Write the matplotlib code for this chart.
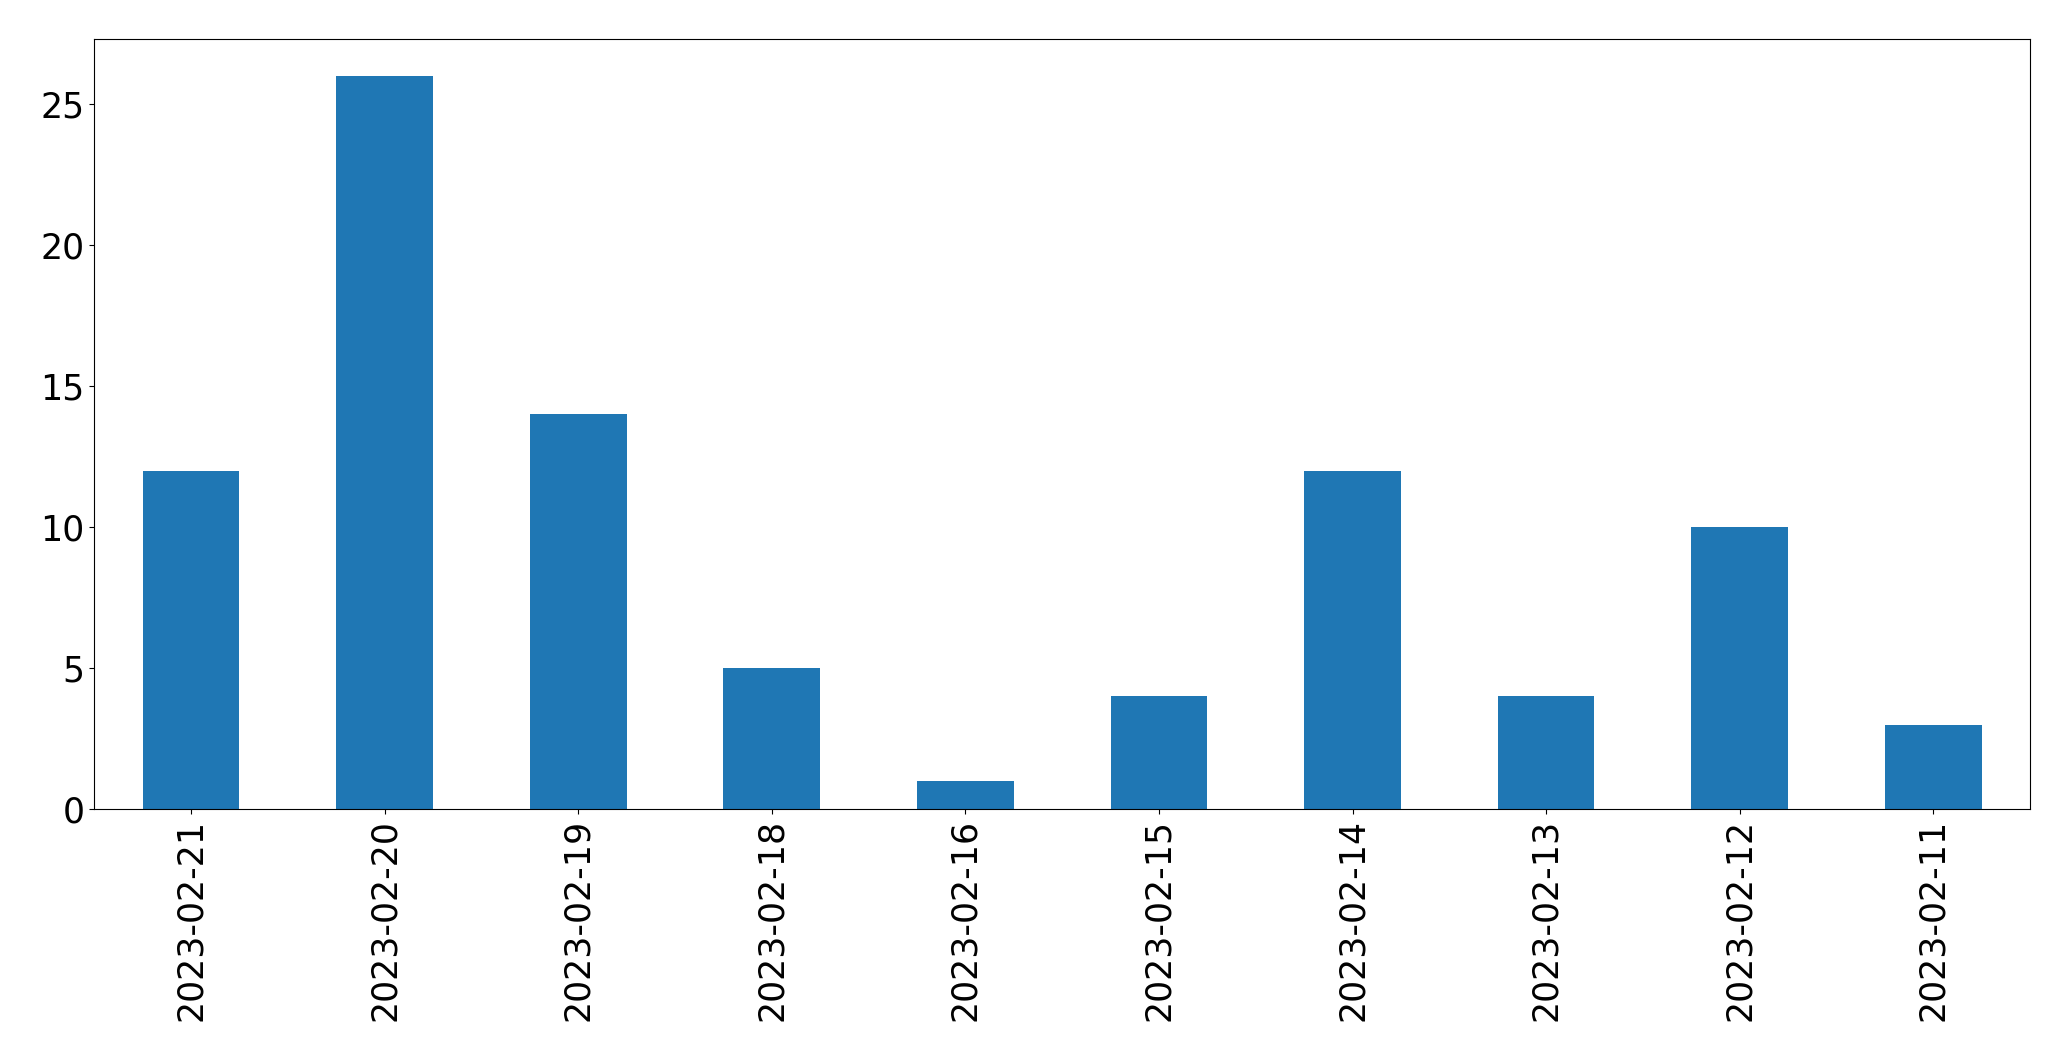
import matplotlib
matplotlib.use("Agg")
import matplotlib.pyplot as plt
import pandas as pd

dates = ["2023-02-21", "2023-02-20", "2023-02-19", "2023-02-18", "2023-02-16",
         "2023-02-15", "2023-02-14", "2023-02-13", "2023-02-12", "2023-02-11"]
counts = [12, 26, 14, 5, 1, 4, 12, 4, 10, 3]

fig = plt.figure(figsize=(20.71, 10.61), dpi=100)
ax = fig.add_axes([94.3 / 2071, 1 - 809.3 / 1061, (2030 - 94.3) / 2071, (809.3 - 39.3) / 1061])
s = pd.Series(counts, index=dates)
s.plot(kind="bar", ax=ax, color="#1f77b4", width=0.5)
ax.tick_params(axis="both", labelsize=25)
ax.set_xlabel("")
fig.savefig("out.png", dpi=100)
